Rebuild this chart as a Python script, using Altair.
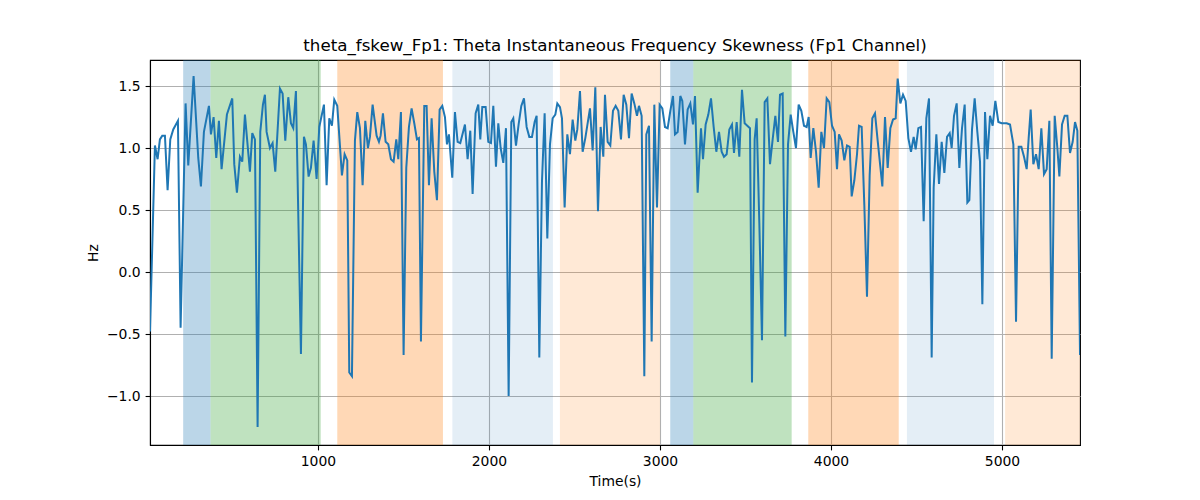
import altair as alt
import pandas as pd

# ---- data ----
time_s = [
    18, 46.8, 62.4, 76.0, 89.7, 105.3, 120.9, 136.5, 154.0, 181.3, 196.9, 226.1, 241.7, 272.9,
    300.2, 315.8, 333.3, 362.6, 374.3, 389.9, 405.5, 421.0, 436.6, 467.8, 499.0, 510.7, 526.3,
    543.8, 557.5, 573.1, 602.3, 616.0, 631.6, 647.2, 662.8, 678.3, 690.0,
    699.8, 719.3, 734.9, 750.5, 777.8, 793.4, 809.0, 826.5, 842.1, 855.7, 871.3, 900.6, 918.1,
    929.8, 945.4, 959.0, 974.6, 992.2, 1007.8, 1035.1, 1050.7, 1066.3, 1081.8, 1095.5, 1113.0,
    1140.3, 1155.9, 1171.5, 1183.2, 1198.8, 1216.3, 1230.0, 1245.6, 1261.2, 1276.8, 1292.4,
    1304.1, 1319.7,
    1343.0, 1356.7, 1366.4, 1380.1, 1395.7, 1411.3, 1426.9, 1442.5, 1458.1, 1469.8, 1485.3,
    1500.9, 1516.5, 1532.1, 1547.7, 1563.3, 1578.9, 1590.6, 1602.3, 1621.8, 1635.4, 1649.1,
    1664.7, 1680.3, 1695.9, 1711.5, 1727.1, 1742.7, 1754.4, 1766.0, 1785.5, 1801.1, 1816.7,
    1832.3, 1859.6, 1875.2, 1890.8, 1904.4, 1922.0, 1937.6, 1949.3, 1961.0, 1980.5, 1996.1,
    2011.7, 2025.4, 2041.0, 2054.6, 2068.3, 2083.9, 2099.5, 2115.1, 2130.7, 2142.4, 2158.0,
    2173.5, 2189.1, 2204.7, 2220.3, 2235.9, 2251.5, 2267.1, 2278.8, 2294.4, 2310.0, 2325.6,
    2341.2, 2356.8, 2372.4, 2388.0, 2399.7, 2415.3, 2427.0, 2442.5, 2458.1, 2473.7, 2489.3,
    2504.9, 2516.6, 2532.2, 2547.8, 2563.4, 2590.7, 2606.3, 2621.9, 2637.5, 2653.1, 2668.7,
    2678.4, 2694.0, 2709.6, 2725.2, 2740.8, 2756.4, 2772.0, 2787.6, 2803.2, 2818.8, 2834.3,
    2849.9, 2865.5, 2877.2, 2892.8, 2908.4, 2920.1, 2935.7, 2951.3, 2966.9, 2982.5, 2998.1,
    3013.7, 3029.3, 3044.9, 3060.5, 3076.1, 3087.8, 3103.4, 3118.9, 3130.6, 3146.2, 3161.8,
    3177.4, 3193.0, 3204.7, 3220.3, 3239.8, 3251.5, 3267.1, 3282.7, 3298.3, 3313.9, 3329.5,
    3345.1,
    3360.6, 3374.3, 3389.9, 3405.5, 3421.1, 3432.8, 3448.4, 3463.9, 3479.5, 3495.1, 3510.7,
    3526.3, 3538.0, 3553.6, 3565.3, 3580.9, 3596.5, 3612.1, 3627.7, 3643.3, 3658.9, 3674.5,
    3690.1, 3701.8, 3717.4, 3733.0, 3748.6, 3764.2, 3779.7, 3795.3, 3810.9, 3826.5, 3842.1,
    3857.7, 3869.4, 3881.1, 3896.7, 3912.3, 3927.9, 3943.5, 3959.1, 3974.7, 3990.3, 4005.9,
    4021.5,
    4035.1, 4046.8, 4062.4, 4078.0, 4093.6, 4109.2, 4120.9, 4136.5, 4152.1, 4163.8, 4179.3,
    4194.9, 4210.5, 4226.1, 4241.7, 4257.3, 4272.9, 4288.5, 4300.2, 4315.8, 4331.4, 4347.0,
    4362.6, 4378.2, 4389.9, 4405.5, 4421.1, 4436.7, 4452.2, 4467.8, 4483.4, 4495.1, 4510.7,
    4526.3, 4541.9, 4557.5, 4573.1, 4588.7, 4600.4, 4616.0, 4631.6, 4647.2, 4662.8, 4678.4,
    4694.0,
    4705.6, 4719.3, 4734.9, 4750.5, 4766.1, 4781.7, 4797.3, 4809.0, 4824.6, 4840.1, 4855.7,
    4871.3, 4885.0, 4900.6, 4914.2, 4929.8, 4945.4, 4961.0, 4978.5, 4998.0, 5027.3, 5046.8,
    5066.3, 5081.9, 5097.5, 5113.1, 5128.7, 5144.2, 5155.9, 5167.6, 5183.2, 5198.8, 5214.4,
    5230.0, 5245.6, 5261.2, 5276.8, 5290.5, 5308.0, 5323.6, 5335.3, 5350.9, 5366.5, 5382.1,
    5397.6, 5413.2, 5426.9, 5440.5, 5456.1,
]

hz = [
    -0.48, 1.02, 0.91, 1.07, 1.10, 1.10, 0.66, 1.07, 1.15, 1.22, -0.45, 1.36, 0.86, 1.58,
    0.92, 0.69, 1.13, 1.34, 1.11, 1.25, 0.92, 1.22, 0.83, 1.27, 1.40, 0.87, 0.64,
    0.93, 0.89, 1.27, 0.81, 1.12, 1.07, -1.25, 1.13, 1.35, 1.43,
    1.13, 1.00, 1.04, 0.81, 1.48, 1.44, 1.06, 1.41, 1.20, 1.16, 1.46, -0.66, 1.09,
    1.03, 0.77, 0.84, 1.06, 0.75, 1.17, 1.35, 0.70, 1.24, 1.18, 1.39, 1.34,
    0.78, 0.95, 0.90, -0.81, -0.84, 1.06, 1.29, 1.16, 0.70, 1.22, 1.00,
    1.09, 1.35,
    1.10, 1.05, 1.10, 1.28, 1.05, 1.03, 0.91, 0.89, 1.07, 0.91, 1.29,
    -0.67, 0.84, 1.17, 1.32, 1.20, 1.07, 1.08, -0.56, 1.34, 1.34, 0.70,
    1.24, 0.81, 0.58, 1.31, 1.34, 1.25, 1.03, 1.11, 0.76, 1.29, 1.05,
    1.04, 1.19, 0.91, 1.14, 0.63, 1.28, 1.35, 1.07, 1.33, 1.33, 1.05,
    1.04, 1.34, 0.85, 1.20, 1.00, 0.88, 1.16, -1.00, 1.21, 1.24, 1.02,
    1.19, 1.34, 1.40, 1.17, 1.09, 1.09, 1.21, 1.26, -0.69, 0.73, 1.28,
    0.27, 1.03, 1.24, 1.27, 1.36, 1.33, 1.24, 0.52, 1.11, 0.95, 1.23,
    1.06, 1.15, 1.46, 0.97, 1.08, 1.32, 0.98, 1.49, 0.49, 1.17, 0.93,
    1.43, 1.05, 1.02, 1.30, 1.34, 1.30, 1.07, 1.43, 1.35, 1.08, 1.44,
    1.36, 1.26, 1.34, 1.26, -0.84, 1.11, 1.18, -0.56, 1.35, 0.52, 1.35,
    1.32, 1.17, 1.16, 1.30, 1.42, 1.11, 1.13, 1.42, 1.38, 1.03, 1.31,
    1.36, 1.19, 1.42, 0.64, 1.16, 0.91, 1.19, 1.27, 1.40, 1.17, 0.97,
    1.13,
    0.97, 0.93, 0.95, 1.15, 1.19, 0.96, 1.21, 0.93, 1.47, 1.20, 1.18,
    1.16, -0.89, 1.07, 1.24, 0.40, -0.55, 1.37, 1.40, 0.87, 1.07, 1.26,
    1.05, 1.43, 1.44, -0.52, 1.03, 1.27, 1.13, 1.00, 1.35, 1.30, 1.18,
    1.17, 1.25, 0.92, 1.16, 0.97, 0.68, 1.13, 1.00, 1.40, 1.37, 1.18,
    1.13,
    0.83, 1.11, 1.06, 0.90, 1.02, 1.01, 0.61, 0.74, 0.95, 1.18, 1.17,
    0.54, -0.20, 0.78, 1.24, 1.28, 1.06, 0.85, 0.69, 1.25, 0.84, 1.16,
    1.23, 1.24, 1.56, 1.36, 1.43, 1.38, 1.08, 0.97, 1.09, 0.99, 1.16,
    1.17, 0.41, 1.24, 1.40, -0.69, 0.68, 1.11, 0.71, 1.05, 0.80, 1.09,
    1.12,
    1.00, 1.26, 1.36, 0.84, 1.16, 1.35, 0.56, 0.58, 1.15, 1.40, 1.13,
    0.89, -0.26, 1.29, 0.91, 1.26, 1.18, 1.38, 1.21, 1.20, 1.20, 1.19,
    1.03, -0.40, 1.01, 1.01, 0.93, 0.83, 1.08, 1.31, 0.87, 0.95, 0.83,
    1.16, 0.79, 0.83, 1.22, -0.70, 1.26, 1.00, 0.77, 1.19, 1.26, 1.26,
    0.96, 1.05, 1.21, 1.14, -0.67,
]

span_start = [212, 372, 1113, 1786, 2415, 3060, 3195, 3867, 4444, 5018]
span_end = [372, 1016, 1731, 2374, 3000, 3195, 3770, 4396, 4953, 5456]
span_color = ["#1f77b4", "#2ca02c", "#ff7f0e", "#1f77b4", "#ff7f0e",
              "#1f77b4", "#2ca02c", "#ff7f0e", "#1f77b4", "#ff7f0e"]
span_alpha = [0.3, 0.3, 0.3, 0.12, 0.17, 0.3, 0.3, 0.3, 0.12, 0.17]

y_ticks = [-1.0, -0.5, 0.0, 0.5, 1.0, 1.5]
x_ticks = [1000, 2000, 3000, 4000, 5000]

line_df = pd.DataFrame({"t": time_s, "v": hz})
span_df = pd.DataFrame({"s": span_start, "e": span_end, "c": span_color, "a": span_alpha})

x_scale = alt.Scale(domain=[18, 5456], nice=False, zero=False)
y_scale = alt.Scale(domain=[-1.395, 1.71], nice=False, zero=False)

spans = alt.Chart(span_df).mark_rect().encode(
    x=alt.X("s:Q", scale=x_scale,
            axis=alt.Axis(title="Time(s)", values=x_ticks, format="d", titlePadding=6)),
    x2="e:Q",
    color=alt.Color("c:N", scale=None),
    opacity=alt.Opacity("a:Q", scale=None),
)

line = alt.Chart(line_df).mark_line(color="#1f77b4", strokeWidth=2, clip=True).encode(
    x=alt.X("t:Q", scale=x_scale),
    y=alt.Y("v:Q", scale=y_scale,
            axis=alt.Axis(title="Hz", values=y_ticks, format=".1f", titlePadding=6)),
)

chart = alt.layer(spans, line).properties(
    width=930,
    height=385,
    title=alt.TitleParams(
        "theta_fskew_Fp1: Theta Instantaneous Frequency Skewness (Fp1 Channel)",
        fontSize=16.7, fontWeight="normal", font="DejaVu Sans", color="black", offset=5,
    ),
    padding={"left": 78, "top": 30, "right": 10, "bottom": 5},
).configure_view(
    stroke="black", strokeWidth=1.1,
).configure_axis(
    labelFont="DejaVu Sans", labelFontSize=13.9, labelColor="black",
    titleFont="DejaVu Sans", titleFontSize=13.9, titleFontWeight="normal", titleColor="black",
    tickColor="black", tickSize=4.9, tickWidth=1.1, domainColor="black", domainWidth=1.1,
    gridColor="#b0b0b0", gridWidth=1.1, gridOpacity=1, labelPadding=4.9,
)

chart.save("out.html", embed_options={"renderer": "svg", "actions": False})
